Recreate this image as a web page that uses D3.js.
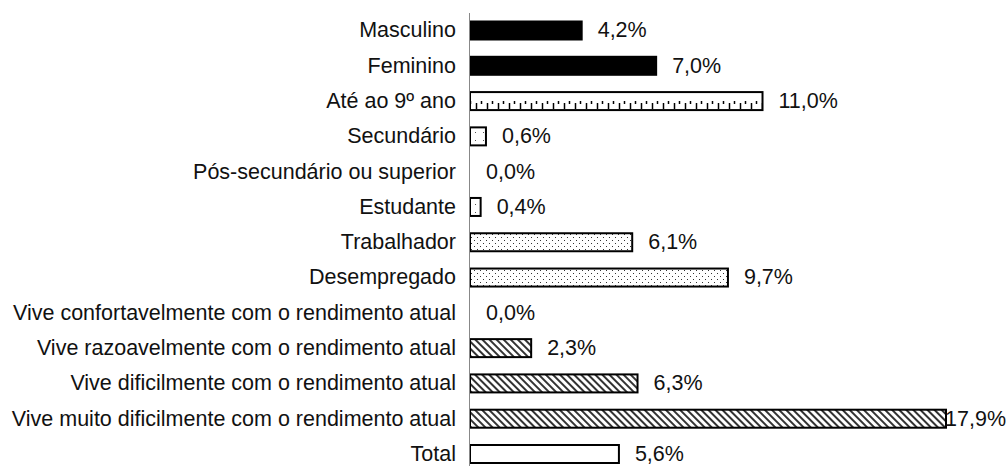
<!DOCTYPE html>
<html>
<head>
<meta charset="utf-8">
<script src="https://cdn.jsdelivr.net/npm/d3@7"></script>
<style>
  body { margin: 0; background: #fff; }
  text { font-family: "Liberation Sans", Arial, sans-serif; font-size: 21.5px; fill: #111; }
</style>
</head>
<body>
<div id="chart"></div>
<script>
var width = 1008,
    height = 466;

var categories = [
  "Masculino", "Feminino", "Até ao 9º ano", "Secundário", "Pós-secundário ou superior",
  "Estudante", "Trabalhador", "Desempregado",
  "Vive confortavelmente com o rendimento atual", "Vive razoavelmente com o rendimento atual",
  "Vive dificilmente com o rendimento atual", "Vive muito dificilmente com o rendimento atual",
  "Total"
];
var values = [4.2, 7.0, 11.0, 0.6, 0.0, 0.4, 6.1, 9.7, 0.0, 2.3, 6.3, 17.9, 5.6];
var fills = ["black", "black", "ticks", "sparse", "sparse", "sparse", "dots", "dots",
  "hatch", "hatch", "hatch", "hatch", "white"];

var svg = d3.select("#chart")
  .append("svg")
  .attr("width", width)
  .attr("height", height);

var defs = svg.append("defs");

// tick pattern (Até ao 9º ano)
var pt = defs.append("pattern").attr("id", "ticks")
  .attr("patternUnits", "userSpaceOnUse").attr("width", 11).attr("height", 19);
pt.append("rect").attr("width", 11).attr("height", 19).attr("fill", "#fff");
pt.append("line").attr("x1", 3.5).attr("x2", 3.5).attr("y1", 8).attr("y2", 14)
  .attr("stroke", "#000").attr("stroke-width", 1.5);
pt.append("line").attr("x1", 8.5).attr("x2", 8.5).attr("y1", 6).attr("y2", 9)
  .attr("stroke", "#000").attr("stroke-width", 1.5);

// sparse dots
var ps = defs.append("pattern").attr("id", "sparse")
  .attr("patternUnits", "userSpaceOnUse").attr("width", 8).attr("height", 8);
ps.append("rect").attr("width", 8).attr("height", 8).attr("fill", "#fff");
ps.append("rect").attr("x", 3).attr("y", 4).attr("width", 1).attr("height", 1).attr("fill", "#555");

// dotted grid
var pd = defs.append("pattern").attr("id", "dots")
  .attr("patternUnits", "userSpaceOnUse").attr("width", 6).attr("height", 6);
pd.append("rect").attr("width", 6).attr("height", 6).attr("fill", "#fff");
pd.append("rect").attr("x", 0).attr("y", 0).attr("width", 1).attr("height", 1).attr("fill", "#333");
pd.append("rect").attr("x", 3).attr("y", 3).attr("width", 1).attr("height", 1).attr("fill", "#333");

// diagonal hatch
var ph = defs.append("pattern").attr("id", "hatch")
  .attr("patternUnits", "userSpaceOnUse").attr("width", 5).attr("height", 5)
  .attr("patternTransform", "rotate(-45)");
ph.append("rect").attr("width", 5).attr("height", 5).attr("fill", "#fff");
ph.append("rect").attr("x", 0).attr("y", 0).attr("width", 2).attr("height", 5).attr("fill", "#333");

var x0 = 470;
var x = d3.scaleLinear().domain([0, 17.9]).range([x0, 946]);

var y = d3.scalePoint().domain(categories).range([30.5, 454]);
var barH = 18;

var rows = categories.map(function(c, i) { return { cat: c, v: values[i], f: fills[i] }; });

svg.selectAll(".bar")
  .data(rows.filter(function(d) { return d.v > 0; }))
  .enter().append("rect")
    .attr("class", "bar")
    .attr("x", x(0))
    .attr("y", function(d) { return y(d.cat) - barH / 2; })
    .attr("width", function(d) { return x(d.v) - x(0); })
    .attr("height", barH)
    .attr("fill", function(d) {
      if (d.f == "black") return "#000";
      if (d.f == "white") return "#fff";
      return "url(#" + d.f + ")";
    })
    .attr("stroke", "#000")
    .attr("stroke-width", 2);

// axis line
svg.append("line")
  .attr("x1", 469.5).attr("x2", 469.5)
  .attr("y1", 13).attr("y2", height)
  .attr("stroke", "#888").attr("stroke-width", 1);

// category labels
svg.selectAll(".cat")
  .data(rows)
  .enter().append("text")
    .attr("class", "cat")
    .attr("x", 456)
    .attr("y", function(d) { return y(d.cat); })
    .attr("dy", "0.32em")
    .attr("text-anchor", "end")
    .text(function(d) { return d.cat; });

// value labels
svg.selectAll(".val")
  .data(rows)
  .enter().append("text")
    .attr("class", "val")
    .attr("x", function(d) { return x(d.v) + 16; })
    .attr("y", function(d) { return y(d.cat); })
    .attr("dy", "0.32em")
    .text(function(d) { return d.v.toFixed(1).replace(".", ",") + "%"; })
    .each(function() {
      var t = d3.select(this);
      var w = this.getComputedTextLength();
      if (+t.attr("x") + w > 1006) t.attr("x", 1006).attr("text-anchor", "end");
    });
</script>
</body>
</html>
